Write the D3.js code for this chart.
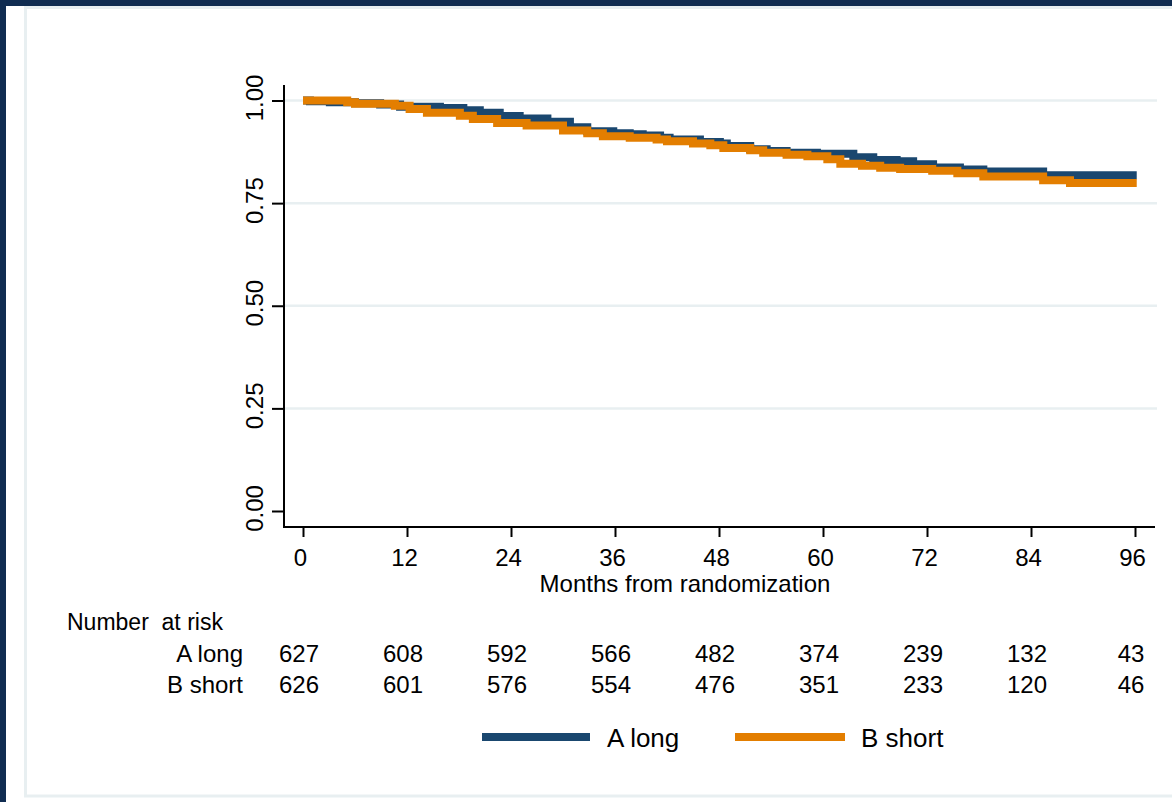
<!DOCTYPE html>
<html>
<head>
<meta charset="utf-8">
<script src="https://cdn.jsdelivr.net/npm/d3@7"></script>
<style>
  html, body { margin: 0; padding: 0; background: #fff; }
  svg { display: block; }
  text { font-family: "Liberation Sans", Arial, sans-serif; fill: #000; }
</style>
</head>
<body>
<svg id="chart" width="1172" height="802"></svg>
<script>
// ---------------- data ----------------
const seriesNames = ["A long", "B short"];

const timesA = [0, 0.8, 3.1, 6.0, 8.9, 11.2, 15.8, 18.5, 20.4, 22.7, 25.0, 28.2, 30.8, 32.8, 35.8, 37.7, 39.2, 41.2, 42.3, 45.8, 48.1, 48.9, 51.6, 53.5, 55.8, 59.3, 63.5, 65.8, 68.5, 70.4, 72.7, 75.8, 78.5, 85.4, 96.2];
const survA  = [1.000, 0.998, 0.996, 0.993, 0.990, 0.985, 0.982, 0.976, 0.970, 0.962, 0.956, 0.948, 0.935, 0.925, 0.920, 0.918, 0.915, 0.909, 0.905, 0.899, 0.895, 0.889, 0.881, 0.877, 0.873, 0.870, 0.862, 0.855, 0.852, 0.845, 0.837, 0.832, 0.827, 0.818, 0.818];

const timesB = [0, 5.1, 6.0, 10.6, 12.3, 14.3, 18.1, 19.6, 22.4, 25.8, 30.0, 32.8, 34.6, 37.7, 40.8, 42.0, 45.0, 47.0, 48.5, 51.6, 53.1, 55.8, 58.2, 60.5, 62.0, 64.5, 66.6, 68.9, 72.6, 75.5, 78.5, 85.4, 88.5, 96.2];
const survB  = [1.000, 0.996, 0.992, 0.987, 0.979, 0.970, 0.963, 0.955, 0.945, 0.939, 0.927, 0.920, 0.913, 0.909, 0.905, 0.901, 0.895, 0.891, 0.884, 0.879, 0.873, 0.868, 0.864, 0.857, 0.846, 0.841, 0.836, 0.833, 0.829, 0.823, 0.815, 0.806, 0.799, 0.799];

const xTicks = [0, 12, 24, 36, 48, 60, 72, 84, 96];
const yTicks = [0, 0.25, 0.5, 0.75, 1];
const yGridTicks = [0.25, 0.5, 0.75, 1];
const riskA = [627, 608, 592, 566, 482, 374, 239, 132, 43];
const riskB = [626, 601, 576, 554, 476, 351, 233, 120, 46];

const xTitle = "Months from randomization";
const riskTitle = "Number  at risk";

// ---------------- layout ----------------
const colors = ["#1a476f", "#e37e00"];
const svg = d3.select("#chart");

svg.append("rect").attr("x", 0).attr("y", 0).attr("width", 1172).attr("height", 802).attr("fill", "#102c51");
svg.append("rect").attr("x", 6).attr("y", 6).attr("width", 1166).attr("height", 796).attr("fill", "#ffffff");
svg.append("rect").attr("x", 25.5).attr("y", 7.5).attr("width", 1170).attr("height", 788.5)
  .attr("fill", "none").attr("stroke", "#e8eff1").attr("stroke-width", 3);

const x = d3.scaleLinear().domain([0, 96]).range([303, 1135]);
const y = d3.scaleLinear().domain([0, 1]).range([511, 100.5]);

const plotLeft = 284, plotRight = 1157, plotTop = 85, plotBottom = 527;

// gridlines
svg.append("g").selectAll("line").data(yGridTicks).join("line")
  .attr("x1", plotLeft + 1).attr("x2", plotRight)
  .attr("y1", d => y(d)).attr("y2", d => y(d))
  .attr("stroke", "#e8eff1").attr("stroke-width", 2.5);

// y axis
const yAxis = svg.append("g").attr("transform", `translate(${plotLeft},0)`)
  .call(d3.axisLeft(y).tickValues(yTicks).tickSize(12).tickPadding(8).tickFormat(d3.format(".2f")));
yAxis.select(".domain").remove();
yAxis.selectAll(".tick line").attr("stroke", "#000").attr("stroke-width", 2);
yAxis.selectAll(".tick text")
  .attr("font-size", 24).attr("font-family", "Liberation Sans, Arial, sans-serif")
  .attr("text-anchor", "middle").attr("dy", 0)
  .attr("x", 0).attr("y", 0)
  .attr("transform", "translate(-21,-3) rotate(-90)");
svg.append("line").attr("x1", plotLeft).attr("x2", plotLeft)
  .attr("y1", plotTop).attr("y2", plotBottom + 1)
  .attr("stroke", "#000").attr("stroke-width", 2);

// x axis
const xAxis = svg.append("g").attr("transform", `translate(0,${plotBottom})`)
  .call(d3.axisBottom(x).tickValues(xTicks).tickSize(10).tickPadding(8));
xAxis.select(".domain").remove();
xAxis.selectAll(".tick line").attr("stroke", "#000").attr("stroke-width", 2);
xAxis.selectAll(".tick text")
  .attr("font-size", 24).attr("font-family", "Liberation Sans, Arial, sans-serif")
  .attr("dy", 0).attr("y", 39).attr("dx", -3);
svg.append("line").attr("x1", plotLeft - 1).attr("x2", plotRight - 2)
  .attr("y1", plotBottom).attr("y2", plotBottom)
  .attr("stroke", "#000").attr("stroke-width", 2);

svg.append("text").attr("x", (x(0) + x(96)) / 2 - 34).attr("y", 592)
  .attr("text-anchor", "middle").attr("font-size", 24).text(xTitle);

// curves
const line = d3.line().x(d => x(d[0])).y(d => y(d[1])).curve(d3.curveStepAfter);
const dataA = timesA.map((t, i) => [t, survA[i]]);
const dataB = timesB.map((t, i) => [t, survB[i]]);
[dataA, dataB].forEach((d, i) => {
  svg.append("path").datum(d).attr("d", line)
    .attr("fill", "none").attr("stroke", colors[i]).attr("stroke-width", 8)
    .attr("stroke-linejoin", "miter").attr("stroke-linecap", "butt");
});

// risk table
svg.append("text").attr("x", 67).attr("y", 630).attr("font-size", 23).style("white-space", "pre").text(riskTitle);
[riskA, riskB].forEach((row, i) => {
  const yy = 662 + i * 31;
  svg.append("text").attr("x", 243).attr("y", yy).attr("text-anchor", "end").attr("font-size", 24).text(seriesNames[i]);
  svg.append("g").selectAll("text").data(row).join("text")
    .attr("x", (d, j) => x(xTicks[j]) - 4).attr("y", yy)
    .attr("text-anchor", "middle").attr("font-size", 24).text(d => d);
});

// legend
const legendItems = [
  { x1: 482, x2: 590, tx: 607 },
  { x1: 735, x2: 845, tx: 861 }
];
legendItems.forEach((it, i) => {
  svg.append("line").attr("x1", it.x1).attr("x2", it.x2).attr("y1", 737).attr("y2", 737)
    .attr("stroke", colors[i]).attr("stroke-width", 8);
  svg.append("text").attr("x", it.tx).attr("y", 747).attr("font-size", 26).text(seriesNames[i]);
});
</script>
</body>
</html>
